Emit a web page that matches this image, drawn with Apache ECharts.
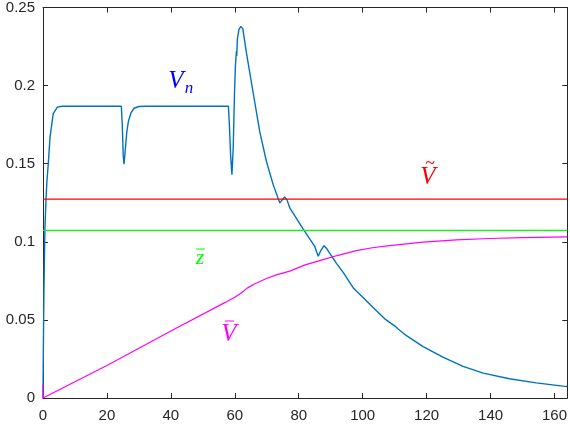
<!DOCTYPE html>
<html>
<head>
<meta charset="utf-8">
<script src="https://cdn.jsdelivr.net/npm/echarts@6/dist/echarts.min.js"></script>
<style>
	html, body { margin: 0; padding: 0; background: #fff; }
	#chart { width: 570px; height: 424px; }
</style>
</head>
<body>
<div id="chart"></div>
<script>
// 横轴范围与刻度
let x_min = 0;
let x_max = 164;
let x_step = 20;
let y_min = 0;
let y_max = 0.25;
let y_step = 0.05;

// V_n 曲线 (t, 值)
let vn_data = [
	[0, 0], [0.1, 0.03], [0.3, 0.07], [0.6, 0.108], [0.9, 0.125], [1.2, 0.138], [1.65, 0.15],
	[2.2, 0.167], [3.2, 0.182], [4.5, 0.1862], [6, 0.1868], [24.5, 0.1868], [24.8, 0.175],
	[25.1, 0.155], [25.35, 0.1497], [25.7, 0.158], [26.2, 0.17], [26.7, 0.177], [27.5, 0.1825],
	[28.5, 0.1855], [30, 0.1866], [32, 0.1868], [58, 0.1868], [58.3, 0.175], [58.7, 0.155],
	[59.1, 0.143], [59.5, 0.16], [59.9, 0.195], [60.2, 0.213], [60.5, 0.222], [60.6, 0.219],
	[60.8, 0.2298], [61.3, 0.236], [61.9, 0.2379], [62.5, 0.2365], [63.6, 0.2214], [65.7, 0.1959],
	[67.8, 0.1705], [69.9, 0.1514], [72, 0.1366], [73.5, 0.128], [74.1, 0.1249], [74.8, 0.1268],
	[75.6, 0.1287], [76.3, 0.127], [77.2, 0.1217], [81.3, 0.1085], [85, 0.0971], [85.6, 0.0935],
	[86.1, 0.0908], [86.8, 0.094], [87.9, 0.0975], [88.8, 0.0955], [91.8, 0.0862], [94, 0.0801],
	[97, 0.0706], [100.1, 0.0643], [104.3, 0.0558], [107, 0.0505], [110.2, 0.0459], [110.5, 0.0463],
	[110.9, 0.0445], [113.7, 0.0399], [118.9, 0.0329], [125.1, 0.0261], [131.4, 0.0202],
	[137.7, 0.0159], [145.9, 0.0123], [154.3, 0.0097], [162.6, 0.0076], [164, 0.0074],
];
// V 波浪 (常数)
let v_tilde_data = [[0, 0.1273], [164, 0.1273]];
// z 横杠 (常数)
let z_bar_data = [[0, 0.1073], [164, 0.1073]];
// V 横杠
let v_bar_data = [
	[0, 0.0085], [0, 0], [20, 0.0208], [40, 0.0429], [57, 0.0612], [60, 0.0645], [62, 0.0672],
	[64, 0.0705], [66, 0.0728], [69.9, 0.0765], [73, 0.0788], [77.2, 0.0812], [82, 0.0852],
	[87.6, 0.0886], [92, 0.0912], [98, 0.0943], [103, 0.0962], [108.4, 0.0975], [118.9, 0.0998],
	[129.3, 0.1012], [139.7, 0.1021], [150.2, 0.1027], [164, 0.1032],
];

let axis_color = '#262626';
let label_font = 'Liberation Serif';

let chart = echarts.init(document.getElementById('chart'));

// 四边框线, 刻度朝内
function make_axis(pos, is_x, show_label) {
	let a = {
		type: 'value',
		position: pos,
		min: is_x ? x_min : y_min,
		max: is_x ? x_max : y_max,
		interval: is_x ? x_step : y_step,
		axisLine: { show: true, onZero: false, lineStyle: { color: axis_color, width: 1 } },
		axisTick: { show: true, inside: true, length: 5, lineStyle: { color: axis_color } },
		splitLine: { show: false },
		axisLabel: {
			show: show_label,
			color: axis_color,
			fontSize: 15,
			fontFamily: 'Liberation Sans',
			margin: is_x ? 10 : 8,
			showMaxLabel: is_x ? false : true,
		},
	};
	return a;
}

let option = {
	animation: false,
	backgroundColor: '#fff',
	grid: { left: 43, right: 2, top: 5, bottom: 26, containLabel: false },
	xAxis: [make_axis('bottom', true, true), make_axis('top', true, false)],
	yAxis: [make_axis('left', false, true), make_axis('right', false, false)],
	series: [
		{ type: 'line', data: vn_data, showSymbol: false, lineStyle: { color: '#0072BD', width: 1.4 }, itemStyle: { color: '#0072BD' } },
		{ type: 'line', data: v_tilde_data, showSymbol: false, lineStyle: { color: '#ff0000', width: 1.2 }, itemStyle: { color: '#ff0000' } },
		{ type: 'line', data: z_bar_data, showSymbol: false, lineStyle: { color: '#00ff00', width: 1.2 }, itemStyle: { color: '#00ff00' } },
		{ type: 'line', data: v_bar_data, showSymbol: false, lineStyle: { color: '#ff00ff', width: 1.2 }, itemStyle: { color: '#ff00ff' } },
	],
	graphic: [],
};
chart.setOption(option);

// 文字标注
function txt(s, x, y, size, color, italic) {
	return {
		type: 'text',
		x: x,
		y: y,
		style: {
			text: s,
			fill: color,
			font: `${italic === false ? '' : 'italic '}${size}px "${label_font}"`,
			align: 'center',
			verticalAlign: 'middle',
		},
	};
}
function bar(x1, x2, y, color) {
	return {
		type: 'line',
		shape: { x1: x1, y1: y, x2: x2, y2: y },
		style: { stroke: color, lineWidth: 1 },
	};
}
chart.setOption({
	graphic: [
		txt('V', 176, 81, 25, '#0000ff'),
		txt('n', 189, 89, 17, '#0000ff'),
		txt('V', 428, 177, 25, '#ff0000'),
		txt('~', 430, 164, 18, '#ff0000', false),
		txt('z', 200, 258, 22, '#00ff00'),
		bar(196, 205, 249, '#00ff00'),
		txt('V', 229, 334, 25, '#ff00ff'),
		bar(225, 234, 321, '#ff00ff'),
	],
});
</script>
</body>
</html>
